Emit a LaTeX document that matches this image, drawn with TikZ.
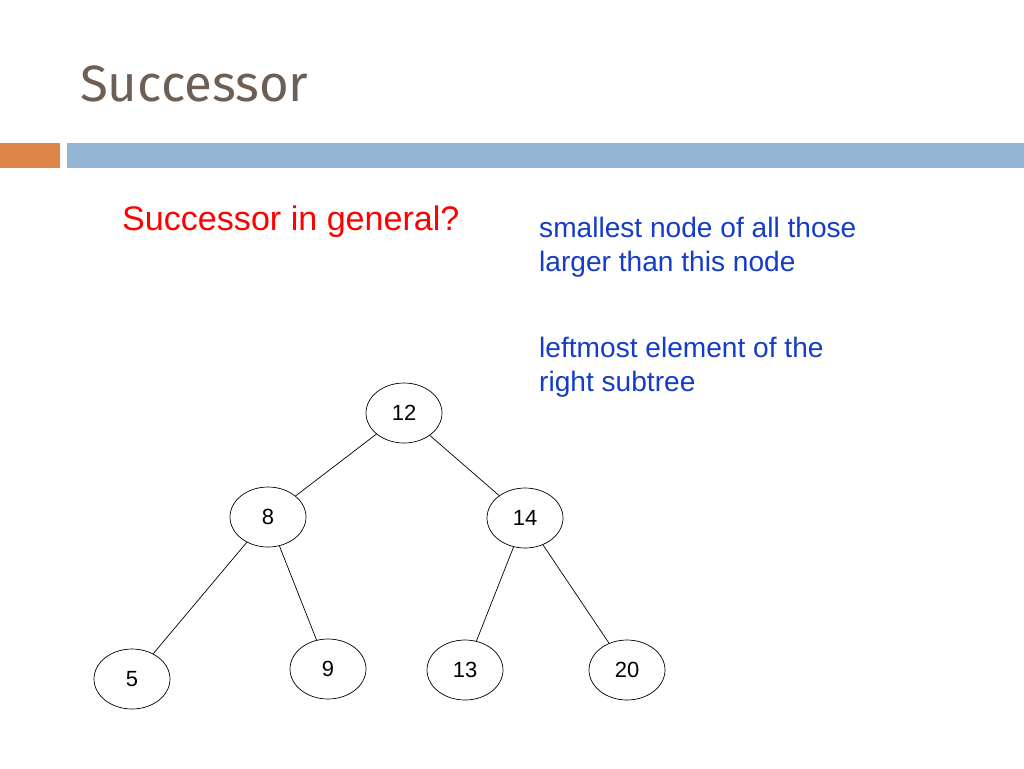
\documentclass[tikz,border=0pt]{standalone}
\usepackage{fontspec}
\setmainfont{Liberation Sans}
\newfontfamily\titlefont{Fira Sans}
\usetikzlibrary{positioning,shapes.geometric}
\definecolor{titlegray}{RGB}{110,95,85}
\definecolor{barorange}{RGB}{222,133,73}
\definecolor{barblue}{RGB}{148,182,212}
\definecolor{noteblue}{RGB}{20,60,200}
\tikzstyle{tnode}=[ellipse, draw=black, minimum width=1.52cm, minimum height=1.2cm, inner sep=0pt, font=\fontsize{12.5}{14}\selectfont]
\tikzstyle{tline}=[-, thin]
\begin{document}
\begin{tikzpicture}[x=0.02cm, y=-0.02cm]
\useasboundingbox (0,0) rectangle (1024,768);
\fill[barorange] (0,143) rectangle (60,168);
\fill[barblue] (67,143) rectangle (1024,168);
\node (TITLE) [anchor=west, text=titlegray, font=\titlefont\fontsize{29}{34}\selectfont] at (74,84) {Successor};
\node (ASK) [anchor=west, text=red, font=\fontsize{19.4}{23}\selectfont] at (116,222) {Successor in general?};
\node (DEF) [anchor=north west, text=noteblue, align=left, font=\fontsize{16}{19.5}\selectfont] at (533,211) {smallest node of all those\\larger than this node};
\node (LEFT) [anchor=north west, text=noteblue, align=left, font=\fontsize{16}{19.5}\selectfont] at (533,331) {leftmost element of the\\right subtree};

\node (N12) [tnode] at (404,413) {12};
\node (N8) [tnode] at (268,517) {8};
\node (N14) [tnode] at (525,518) {14};
\node (N5) [tnode] at (132,679) {5};
\node (N9) [tnode] at (328,669) {9};
\node (N13) [tnode] at (465,670) {13};
\node (N20) [tnode] at (627,670) {20};
 \draw[tline] (N12) -- (N8);
 \draw[tline] (N12) -- (N14);
 \draw[tline] (N8) -- (N5);
 \draw[tline] (N8) -- (N9);
 \draw[tline] (N14) -- (N13);
 \draw[tline] (N14) -- (N20);
\end{tikzpicture}
\end{document}
